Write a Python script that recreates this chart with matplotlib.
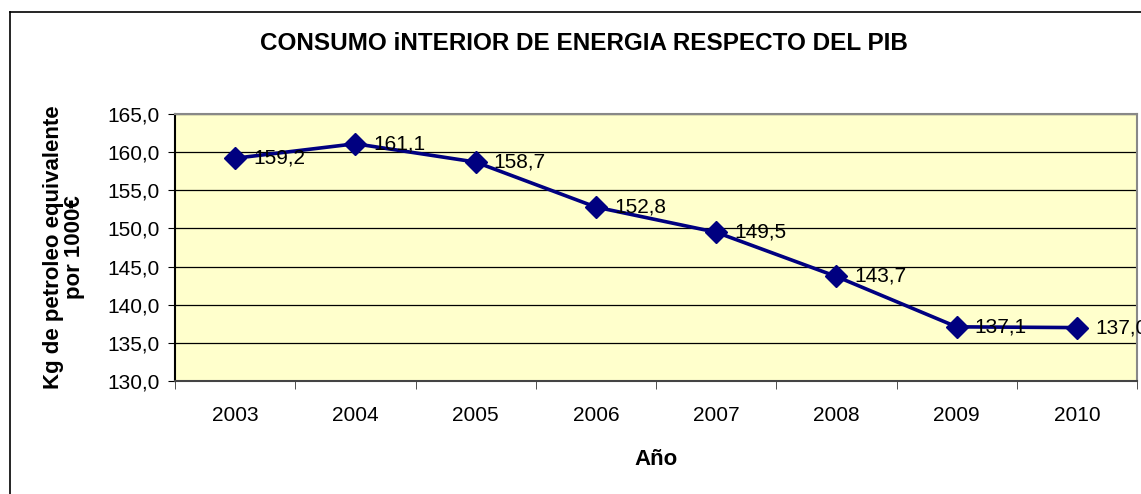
import numpy as np
import matplotlib.pyplot as plt
from matplotlib.lines import Line2D

plt.rcParams['font.family'] = ['Liberation Sans', 'DejaVu Sans']

years = ['2003', '2004', '2005', '2006', '2007', '2008', '2009', '2010']
consumo = [159.2, 161.1, 158.7, 152.8, 149.5, 143.7, 137.1, 137.0]
yticks = [130, 135, 140, 145, 150, 155, 160, 165]

W, H = 1141, 494
fig = plt.figure(figsize=(W/100, H/100), dpi=100)

# outer chart border (left + top only, rest runs off the picture)
x0, y0 = 10/W, 1 - 12/H
fig.add_artist(Line2D([x0, x0], [0, y0], transform=fig.transFigure, color='k', lw=1.2))
fig.add_artist(Line2D([x0, 1.01], [y0, y0], transform=fig.transFigure, color='k', lw=1.2))

ax = fig.add_axes([175/W, 1 - 381/H, (1137 - 175)/W, (381 - 114)/H])
ax.set_facecolor('#FFFFCC')

x = np.arange(len(years))
ax.plot(x, consumo, color='#000080', lw=2.6, marker='D', ms=11, zorder=3, clip_on=False)
for xi, v in zip(x, consumo):
    ax.annotate('{:.1f}'.format(v).replace('.', ','), (xi, v), xytext=(13, 0),
                textcoords='offset points', ha='left', va='center', fontsize=15,
                annotation_clip=False, zorder=4)

ax.set_xlim(-0.5, len(years) - 0.5)
ax.set_ylim(130, 165)
ax.set_yticks(yticks)
ax.set_yticklabels(['{:.1f}'.format(t).replace('.', ',') for t in yticks])
ax.yaxis.grid(True, color='k', lw=0.9)
ax.set_axisbelow(True)

ax.set_xticks(x)
ax.set_xticklabels(years)
ax.set_xticks(np.arange(-0.5, len(years)), minor=True)
ax.tick_params(axis='x', which='major', length=0, pad=18, labelsize=15)
ax.tick_params(axis='x', which='minor', length=6, color='#333333', direction='out')
ax.tick_params(axis='y', length=5, pad=6, labelsize=15, direction='out')

ax.spines['left'].set_color('k')
ax.spines['bottom'].set_color('#444444')
ax.spines['top'].set_color('#888888')
ax.spines['right'].set_color('#888888')
for s in ax.spines.values():
    s.set_linewidth(1.5)

fig.text(584/W, 1 - 44/H, 'CONSUMO iNTERIOR DE ENERGIA RESPECTO DEL PIB',
         ha='center', va='center', fontsize=17.5, fontweight='bold')
fig.text(64/W, 1 - 247/H, 'Kg de petroleo equivalente\npor 1000€', rotation=90,
         ha='center', va='center', fontsize=16, fontweight='bold', linespacing=1.0)
fig.text(656/W, 1 - 459/H, 'Año', ha='center', va='center', fontsize=16,
         fontweight='bold')

fig.savefig('out.png', dpi=100)
